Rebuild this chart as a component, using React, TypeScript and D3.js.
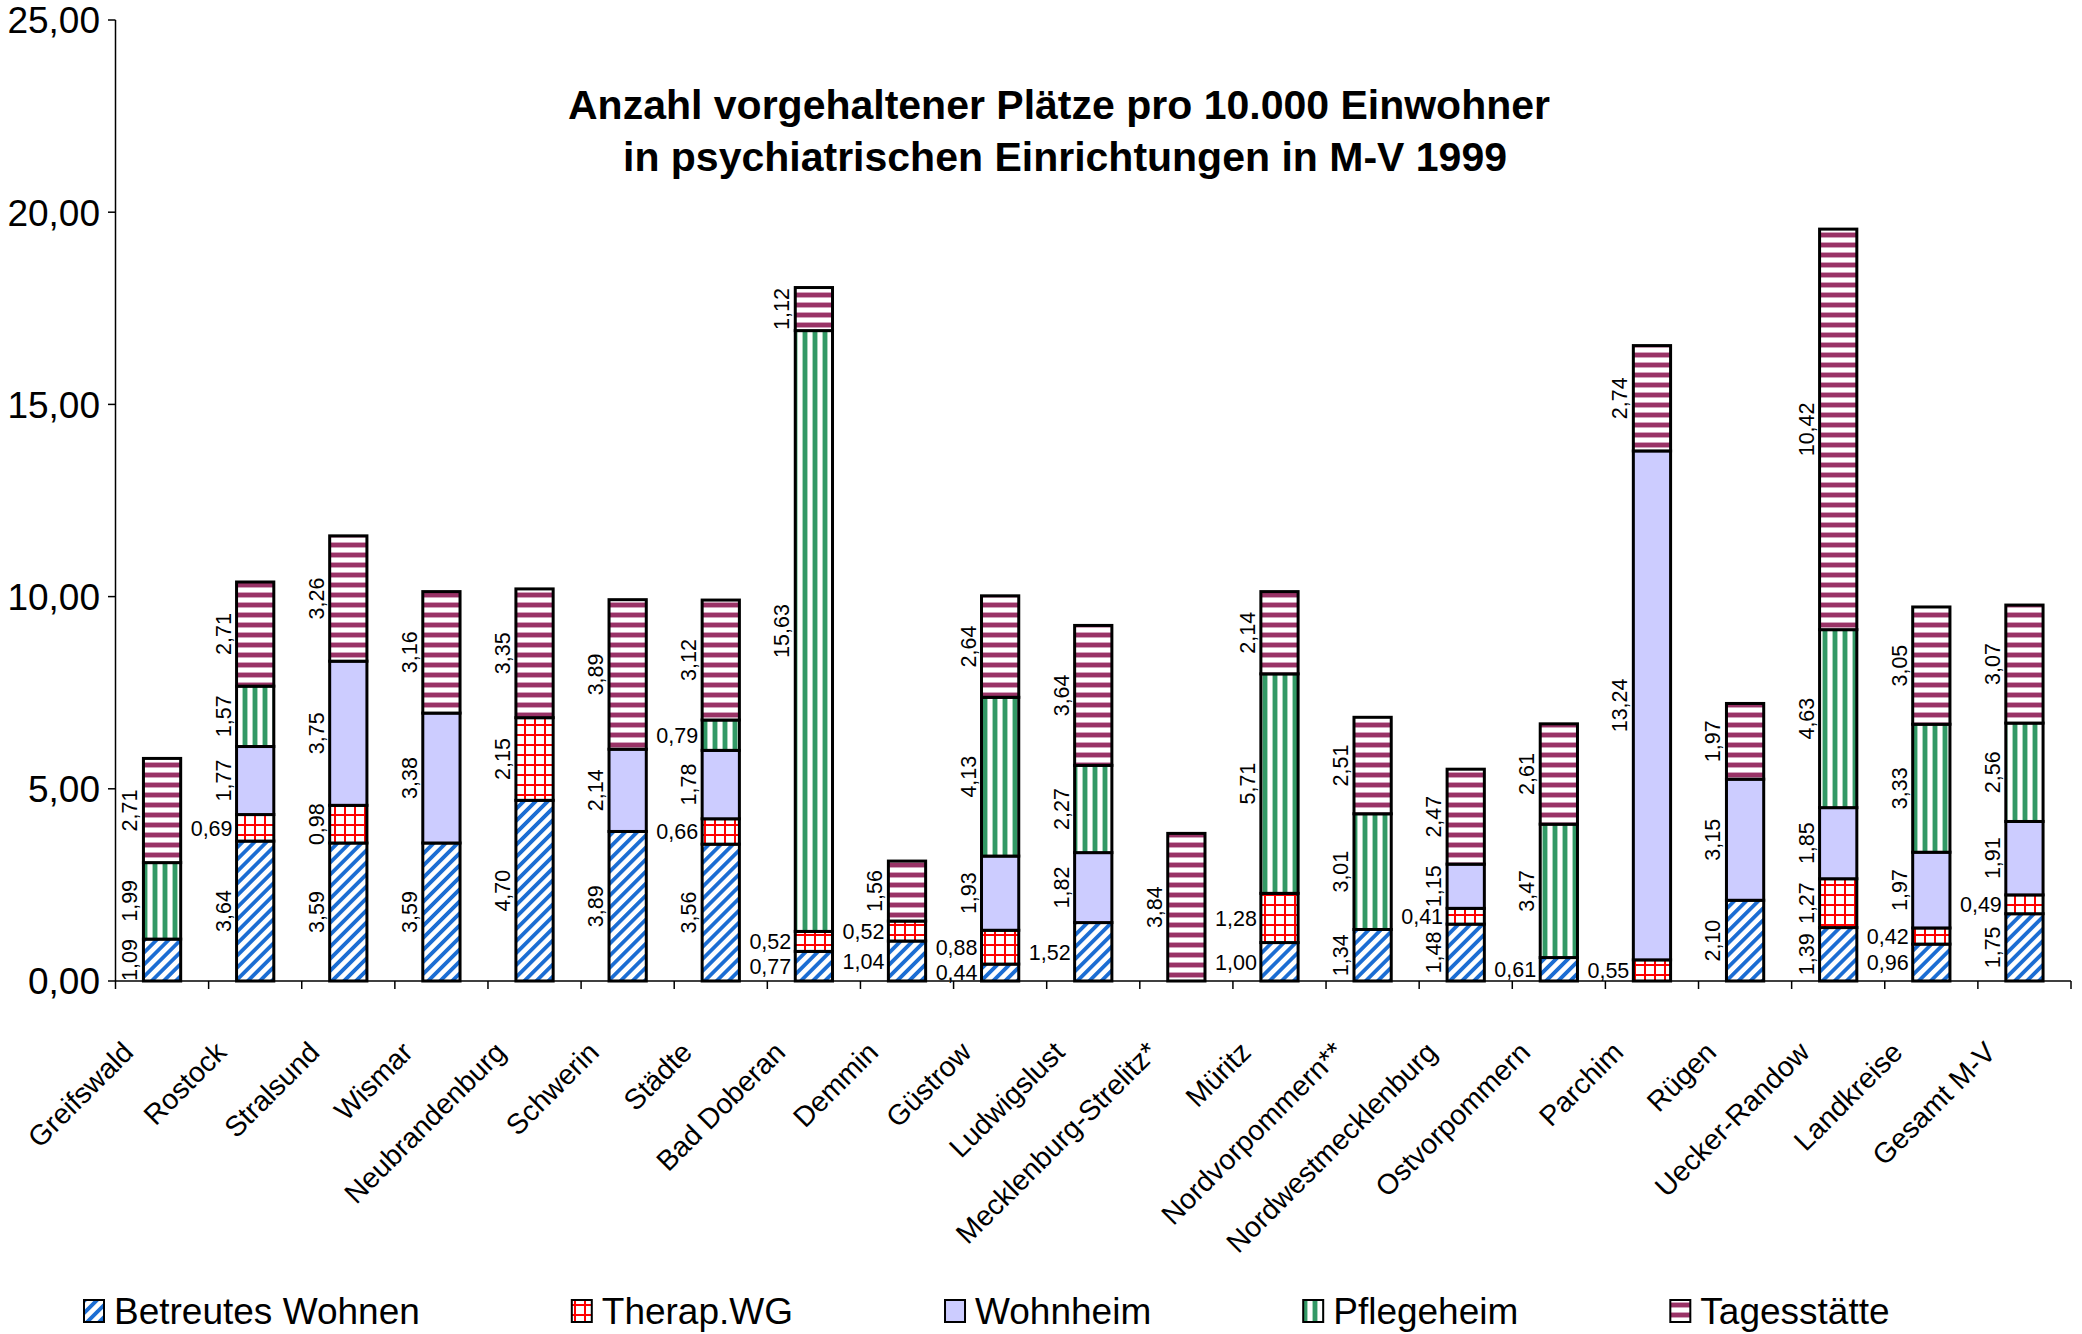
import React, { useEffect, useRef } from 'react';
import * as d3 from 'd3';

const categories = [
  'Greifswald', 'Rostock', 'Stralsund', 'Wismar', 'Neubrandenburg', 'Schwerin', 'Städte',
  'Bad Doberan', 'Demmin', 'Güstrow', 'Ludwigslust', 'Mecklenburg-Strelitz*', 'Müritz',
  'Nordvorpommern**', 'Nordwestmecklenburg', 'Ostvorpommern', 'Parchim', 'Rügen',
  'Uecker-Randow', 'Landkreise', 'Gesamt M-V',
];
const seriesNames = ['Betreutes Wohnen', 'Therap.WG', 'Wohnheim', 'Pflegeheim', 'Tagesstätte'];

const betreutesWohnen = [1.09, 3.64, 3.59, 3.59, 4.70, 3.89, 3.56, 0.77, 1.04, 0.44, 1.52, 0, 1.00, 1.34, 1.48, 0.61, 0, 2.10, 1.39, 0.96, 1.75];
const therapWG = [0, 0.69, 0.98, 0, 2.15, 0, 0.66, 0.52, 0.52, 0.88, 0, 0, 1.28, 0, 0.41, 0, 0.55, 0, 1.27, 0.42, 0.49];
const wohnheim = [0, 1.77, 3.75, 3.38, 0, 2.14, 1.78, 0, 0, 1.93, 1.82, 0, 0, 0, 1.15, 0, 13.24, 3.15, 1.85, 1.97, 1.91];
const pflegeheim = [1.99, 1.57, 0, 0, 0, 0, 0.79, 15.63, 0, 4.13, 2.27, 0, 5.71, 3.01, 0, 3.47, 0, 0, 4.63, 3.33, 2.56];
const tagesstaette = [2.71, 2.71, 3.26, 3.16, 3.35, 3.89, 3.12, 1.12, 1.56, 2.64, 3.64, 3.84, 2.14, 2.51, 2.47, 2.61, 2.74, 1.97, 10.42, 3.05, 3.07];

const yTicks = [0, 5, 10, 15, 20, 25];
const titleLines = [
  'Anzahl vorgehaltener Plätze pro 10.000 Einwohner',
  'in psychiatrischen Einrichtungen in M-V 1999',
];

// labels that sit horizontally next to the bar (category|series index)
const flatLabels = new Set([
  'Rostock|1', 'Städte|1', 'Städte|3', 'Bad Doberan|0', 'Bad Doberan|1', 'Demmin|0', 'Demmin|1',
  'Güstrow|0', 'Güstrow|1', 'Ludwigslust|0', 'Müritz|0', 'Müritz|1', 'Nordwestmecklenburg|1',
  'Ostvorpommern|0', 'Parchim|1', 'Landkreise|0', 'Landkreise|1', 'Gesamt M-V|1',
]);

export default function App() {
  const ref = useRef<SVGSVGElement>(null);

  useEffect(() => {
    document.body.style.margin = '0';
    const svg = d3.select(ref.current);
    svg.selectAll('*').remove();
    const font = "'Liberation Sans', Arial, sans-serif";

    const values = [betreutesWohnen, therapWG, wohnheim, pflegeheim, tagesstaette];
    const rows = categories.map((c, i) => {
      const r: any = { cat: c };
      seriesNames.forEach((s, k) => { r[s] = values[k][i]; });
      return r;
    });
    const stacked = d3.stack().keys(seriesNames)(rows);

    const x = d3.scaleBand().domain(categories).range([115.5, 2071]).paddingInner(0.6).paddingOuter(0.3);
    const y = d3.scaleLinear().domain([0, 25]).range([981, 20]);
    const loc = d3.formatLocale({ decimal: ',', thousands: '.', grouping: [3], currency: ['', ' €'] });
    const fmt = loc.format('.2f');

    // fill patterns
    const defs = svg.append('defs');
    const bw = defs.append('pattern').attr('id', 'pat-bw').attr('patternUnits', 'userSpaceOnUse')
      .attr('width', 8.5).attr('height', 8.5).attr('patternTransform', 'rotate(45)');
    bw.append('rect').attr('width', 8.5).attr('height', 8.5).attr('fill', '#fff');
    bw.append('rect').attr('width', 3.8).attr('height', 8.5).attr('fill', '#1b6dd3');

    const twg = defs.append('pattern').attr('id', 'pat-twg').attr('patternUnits', 'userSpaceOnUse')
      .attr('width', 10).attr('height', 10);
    twg.append('rect').attr('width', 10).attr('height', 10).attr('fill', '#fff');
    twg.append('rect').attr('x', 4).attr('width', 2).attr('height', 10).attr('fill', '#ff0000');
    twg.append('rect').attr('y', 4).attr('width', 10).attr('height', 2).attr('fill', '#ff0000');

    const ph = defs.append('pattern').attr('id', 'pat-ph').attr('patternUnits', 'userSpaceOnUse')
      .attr('width', 10).attr('height', 10);
    ph.append('rect').attr('width', 10).attr('height', 10).attr('fill', '#fff');
    ph.append('rect').attr('x', 2).attr('width', 6).attr('height', 10).attr('fill', '#a8d5bc');
    ph.append('rect').attr('x', 3).attr('width', 4).attr('height', 10).attr('fill', '#339966');

    const ts = defs.append('pattern').attr('id', 'pat-ts').attr('patternUnits', 'userSpaceOnUse')
      .attr('width', 10).attr('height', 10);
    ts.append('rect').attr('width', 10).attr('height', 10).attr('fill', '#fff');
    ts.append('rect').attr('y', 2).attr('width', 10).attr('height', 6).attr('fill', '#d3a3bd');
    ts.append('rect').attr('y', 3).attr('width', 10).attr('height', 4).attr('fill', '#993366');

    const fills = ['url(#pat-bw)', 'url(#pat-twg)', '#ccccff', 'url(#pat-ph)', 'url(#pat-ts)'];

    // title
    svg.append('g').selectAll('text').data(titleLines).enter().append('text')
      .attr('x', (d, i) => (i === 0 ? 1059 : 1065))
      .attr('y', (d, i) => 119 + i * 52)
      .attr('text-anchor', 'middle')
      .style('font-family', font).style('font-size', '41px').style('font-weight', 'bold')
      .text(d => d);

    // y axis
    const yAxis = svg.append('g');
    yAxis.append('line').attr('x1', 115.5).attr('x2', 115.5).attr('y1', y(0)).attr('y2', y(25))
      .attr('stroke', '#000').attr('stroke-width', 1.5);
    yAxis.selectAll('.tick').data(yTicks).enter().append('line')
      .attr('x1', 108).attr('x2', 115.5).attr('y1', d => y(d)).attr('y2', d => y(d))
      .attr('stroke', '#000').attr('stroke-width', 1.5);
    yAxis.selectAll('text').data(yTicks).enter().append('text')
      .attr('x', 100).attr('y', d => y(d)).attr('dy', '0.36em').attr('text-anchor', 'end')
      .style('font-family', font).style('font-size', '37px')
      .text(d => fmt(d));

    // x axis
    const xAxis = svg.append('g');
    xAxis.append('line').attr('x1', 115.5).attr('x2', 2071).attr('y1', y(0)).attr('y2', y(0))
      .attr('stroke', '#000').attr('stroke-width', 1.5);
    xAxis.selectAll('.tick').data(d3.range(categories.length + 1)).enter().append('line')
      .attr('x1', i => 115.5 + i * x.step()).attr('x2', i => 115.5 + i * x.step())
      .attr('y1', y(0)).attr('y2', y(0) + 8)
      .attr('stroke', '#000').attr('stroke-width', 1.5);
    xAxis.selectAll('text').data(categories).enter().append('text')
      .attr('transform', d => `translate(${(x(d) as number) + x.bandwidth() / 2 - 27},1054) rotate(-45)`)
      .attr('text-anchor', 'end')
      .style('font-family', font).style('font-size', '28.5px')
      .text(d => d);

    // bars
    const bars = svg.append('g');
    stacked.forEach((layer, k) => {
      bars.selectAll(`.seg${k}`).data(layer.filter(d => d[1] - d[0] > 0)).enter().append('rect')
        .attr('x', d => x(d.data.cat) as number)
        .attr('width', x.bandwidth())
        .attr('y', d => y(d[1]))
        .attr('height', d => y(d[0]) - y(d[1]))
        .attr('fill', fills[k])
        .attr('stroke', '#000').attr('stroke-width', 3);
    });

    // data labels
    const labels = svg.append('g').style('font-family', font).style('font-size', '21.5px');
    stacked.forEach((layer, k) => {
      layer.filter(d => d[1] - d[0] > 0).forEach(d => {
        const cat = d.data.cat as string;
        const left = x(cat) as number;
        const mid = (y(d[0]) + y(d[1])) / 2;
        if (flatLabels.has(`${cat}|${k}`)) {
          labels.append('text').attr('x', left - 4).attr('y', mid).attr('dy', '0.36em')
            .attr('text-anchor', 'end').text(fmt(d[1] - d[0]));
        } else {
          labels.append('text').attr('transform', `translate(${left - 6},${mid}) rotate(-90)`)
            .attr('text-anchor', 'middle').text(fmt(d[1] - d[0]));
        }
      });
    });

    // legend
    const legend = svg.append('g');
    let lx = 84;
    seriesNames.forEach((s, k) => {
      legend.append('rect').attr('x', lx).attr('y', 1300).attr('width', 20).attr('height', 22)
        .attr('fill', fills[k]).attr('stroke', '#000').attr('stroke-width', 2);
      const t = legend.append('text').attr('x', lx + 30).attr('y', 1324)
        .style('font-family', font).style('font-size', '37px').text(s);
      const w = (t.node() as SVGTextElement).getComputedTextLength();
      lx += 30 + w + 152;
    });
  }, []);

  return <svg ref={ref} width={2082} height={1334} style={{ display: 'block', background: '#fff' }} />;
}
